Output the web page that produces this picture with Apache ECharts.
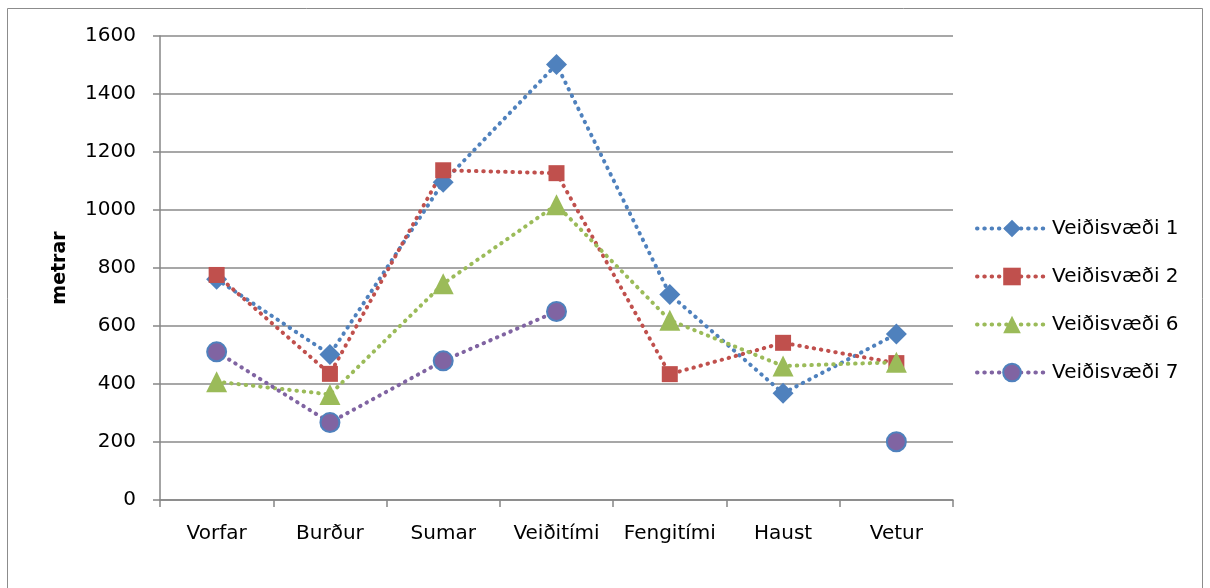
<!DOCTYPE html>
<html>
<head>
<meta charset="utf-8">
<script src="https://cdn.jsdelivr.net/npm/echarts@6/dist/echarts.min.js"></script>
<style>
  html, body { margin: 0; padding: 0; background: #fff; }
  #chart { width: 1210px; height: 588px; }
</style>
</head>
<body>
<div id="chart"></div>
<script>
const categories = ['Vorfar', 'Burður', 'Sumar', 'Veiðitími', 'Fengitími', 'Haust', 'Vetur'];
const seriesNames = ['Veiðisvæði 1', 'Veiðisvæði 2', 'Veiðisvæði 6', 'Veiðisvæði 7'];
const vsv1 = [761, 502, 1096, 1502, 709, 368, 572];
const vsv2 = [776, 435, 1137, 1127, 434, 542, 472];
const vsv6 = [408, 364, 746, 1018, 620, 462, 475];
const vsv7 = [511, 267, 480, 650, null, null, 201];
const yTicks = { min: 0, max: 1600, interval: 200 };
const yAxisName = 'metrar';

const FONT = 'DejaVu Sans';
const dotted = [0.5, 6.8];

function mk(name, data, color, symbol, size, extraItem) {
  return {
    name: name,
    type: 'line',
    data: data,
    symbol: symbol,
    symbolSize: size,
    connectNulls: false,
    lineStyle: { color: color, width: 4, type: dotted, cap: 'round', join: 'round' },
    itemStyle: Object.assign({ color: color }, extraItem || {}),
    emphasis: { disabled: true },
    animation: false
  };
}

const chart = echarts.init(document.getElementById('chart'), null, { renderer: 'canvas' });
chart.setOption({
  backgroundColor: '#ffffff',
  animation: false,
  textStyle: { fontFamily: FONT },
  graphic: [{
    type: 'rect',
    shape: { x: 7.5, y: 8.5, width: 1195, height: 600 },
    style: { fill: 'none', stroke: '#8c8c8c', lineWidth: 1 },
    silent: true
  }],
  grid: { left: 160, right: 257, top: 36, bottom: 88, containLabel: false },
  legend: {
    orient: 'vertical',
    left: 970,
    top: 213,
    itemWidth: 70,
    itemHeight: 22,
    itemGap: 27,
    lineStyle: { width: 4, type: dotted, cap: 'round' },
    textStyle: { fontFamily: FONT, fontSize: 20, color: '#000', lineHeight: 21 },
    data: seriesNames
  },
  xAxis: {
    type: 'category',
    data: categories,
    boundaryGap: true,
    axisLine: { show: true, lineStyle: { color: '#868686', width: 1.5 } },
    axisTick: { show: true, interval: 0, length: 7, lineStyle: { color: '#868686', width: 1.5 } },
    axisLabel: { fontFamily: FONT, fontSize: 20, color: '#000', margin: 24, interval: 0 },
    splitLine: { show: false }
  },
  yAxis: {
    type: 'value',
    min: yTicks.min,
    max: yTicks.max,
    interval: yTicks.interval,
    name: yAxisName,
    nameLocation: 'middle',
    nameGap: 90,
    nameRotate: 90,
    nameTextStyle: { fontFamily: FONT, fontSize: 19, fontWeight: 'bold', color: '#000' },
    axisLine: { show: true, lineStyle: { color: '#868686', width: 1.5 } },
    axisTick: { show: true, length: 7, lineStyle: { color: '#868686', width: 1.5 } },
    axisLabel: { fontFamily: FONT, fontSize: 20, color: '#000', margin: 24, formatter: function (v) { return String(v); } },
    splitLine: { show: true, lineStyle: { color: '#8a8a8a', width: 1.5 } }
  },
  series: [
    mk(seriesNames[0], vsv1, '#4F81BD', 'diamond', [21, 21]),
    mk(seriesNames[1], vsv2, '#C0504D', 'rect', 16),
    mk(seriesNames[2], vsv6, '#9BBB59', 'triangle', 21),
    mk(seriesNames[3], vsv7, '#8064A2', 'circle', 19, { borderColor: '#4F81BD', borderWidth: 2 })
  ]
});
</script>
</body>
</html>
